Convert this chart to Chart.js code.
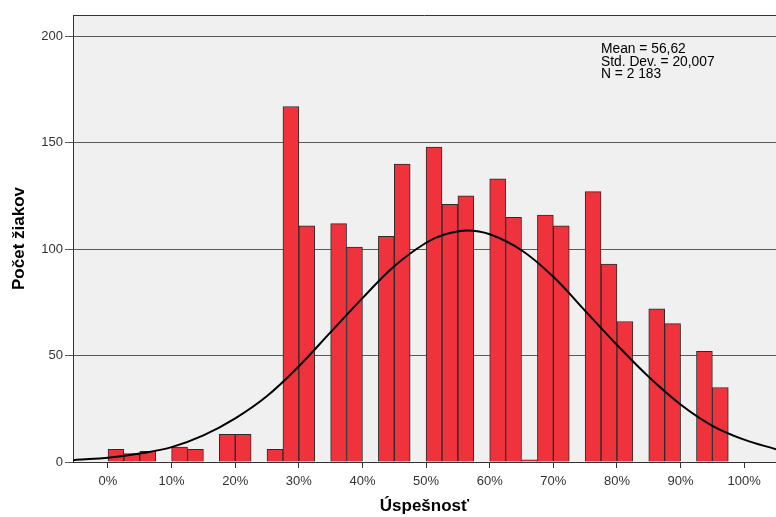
<!DOCTYPE html>
<html><head><meta charset="utf-8">
<script src="https://cdn.jsdelivr.net/npm/chart.js@4"></script>
<style>html,body{margin:0;padding:0;background:#fff}#wrap{width:776px;height:517px}</style>
</head><body><div id="wrap"><canvas id="c" width="776" height="517"></canvas></div>
<script>
// ---- data ----
const binStarts = [0,2.5,5,10,12.5,17.5,20,25,27.5,30,35,37.5,42.5,45,50,52.5,55,60,62.5,65,67.5,70,75,77.5,80,85,87.5,92.5,95];
const counts    = [6,4,5,7,6,13,13,6,167,111,112,101,106,140,148,121,125,133,115,1,116,111,127,93,66,72,65,52,35];
const binWidth = 2.5;
const curveX = [-5.5,-5,0,5,10,15,20,25,30,35,40,45,50,53,56.5,60,65,70,75,80,85,90,95,100,105];
const curveY = [0.8,1,2,4,7,12.5,20.5,31,45,61,77,92,103,107,108.8,107,99.5,87,71,55,40,27,17,10.5,6];
const xTicks = [0,10,20,30,40,50,60,70,80,90,100];
const yTicks = [0,50,100,150,200];
const statsLines = ['Mean = 56,62','Std. Dev. = 20,007','N = 2 183'];
const xTitle = 'Úspešnosť';
const yTitle = 'Počet žiakov';

const FONT = "'Liberation Sans', Arial, sans-serif";

const plotDeco = {
  id: 'plotDeco',
  beforeDraw(chart) {
    const {ctx, chartArea: a} = chart;
    ctx.save();
    ctx.fillStyle = '#f0f0f0';
    ctx.fillRect(a.left, a.top, a.right - a.left, a.bottom - a.top);
    ctx.restore();
  },
  afterDraw(chart) {
    const {ctx, chartArea: a} = chart;
    ctx.save();
    ctx.strokeStyle = '#333';
    ctx.lineWidth = 1;
    ctx.beginPath();
    ctx.moveTo(a.left, a.top + 0.5);
    ctx.lineTo(a.right, a.top + 0.5);
    ctx.stroke();
    ctx.fillStyle = '#000';
    ctx.font = '13.8px ' + FONT;
    ctx.textBaseline = 'middle';
    ctx.textAlign = 'left';
    statsLines.forEach((t, i) => ctx.fillText(t, 601, 49 + i * 12.8));
    ctx.restore();
  }
};

new Chart(document.getElementById('c'), {
  type: 'bar',
  data: {
    datasets: [
      {
        type: 'line',
        data: curveX.map((x, i) => ({x, y: curveY[i]})),
        borderColor: '#000',
        borderWidth: 2,
        pointRadius: 0,
        tension: 0.4,
        order: 0
      },
      {
        type: 'bar',
        data: binStarts.map((s, i) => ({x: s + binWidth / 2, y: counts[i]})),
        backgroundColor: '#f0323c',
        borderColor: '#2b2b2b',
        borderWidth: 1,
        barPercentage: 1,
        categoryPercentage: 1,
        order: 1
      }
    ]
  },
  options: {
    responsive: false,
    animation: false,
    devicePixelRatio: 1,
    layout: {padding: {top: 15, right: 0, left: 0, bottom: 0}},
    plugins: {legend: {display: false}, tooltip: {enabled: false}},
    scales: {
      x: {
        type: 'linear',
        offset: false,
        min: -5.5,
        max: 105,
        afterBuildTicks: s => { s.ticks = xTicks.map(v => ({value: v})); },
        afterFit: s => { s.height = 55; },
        grid: {offset: false, drawOnChartArea: false, drawTicks: true, tickLength: 6, color: '#333'},
        border: {display: true, color: '#333', width: 1},
        ticks: {
          callback: v => v + '%',
          color: '#333',
          font: {family: FONT, size: 13},
          padding: 6,
          maxRotation: 0,
          autoSkip: false
        },
        title: {display: true, text: xTitle, color: '#000',
          font: {family: FONT, size: 17, weight: 'bold'}, padding: {top: 0, bottom: 0}}
      },
      y: {
        min: 0,
        max: 210,
        afterBuildTicks: s => { s.ticks = yTicks.map(v => ({value: v})); },
        afterFit: s => { s.width = 73; },
        grid: {color: '#5a5a5a', lineWidth: 1, drawTicks: true, tickLength: 8},
        border: {display: true, color: '#333', width: 1},
        ticks: {color: '#333', font: {family: FONT, size: 13}, padding: 2},
        title: {display: true, text: yTitle, color: '#000',
          font: {family: FONT, size: 17, weight: 'bold'}, padding: {top: 9, bottom: 0}}
      }
    }
  },
  plugins: [plotDeco]
});
</script>
</body></html>
